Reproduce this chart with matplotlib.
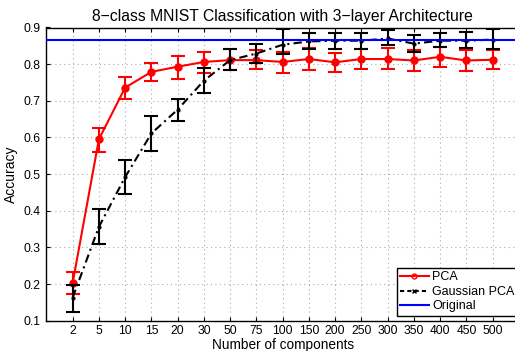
import matplotlib
matplotlib.use("Agg")
import matplotlib.pyplot as plt
from matplotlib.lines import Line2D
import numpy as np

components = ["2", "5", "10", "15", "20", "30", "50", "75", "100", "150",
              "200", "250", "300", "350", "400", "450", "500"]

pca_mean = [0.203, 0.595, 0.736, 0.779, 0.793, 0.806, 0.811, 0.811, 0.806, 0.814,
            0.805, 0.814, 0.814, 0.810, 0.820, 0.810, 0.812]
pca_lo = [0.173, 0.560, 0.705, 0.754, 0.760, 0.776, 0.784, 0.787, 0.777, 0.783,
          0.779, 0.788, 0.787, 0.782, 0.792, 0.781, 0.786]
pca_hi = [0.232, 0.627, 0.766, 0.803, 0.822, 0.832, 0.841, 0.838, 0.833, 0.845,
          0.831, 0.842, 0.843, 0.839, 0.847, 0.839, 0.839]

gpca_mean = [0.163, 0.356, 0.492, 0.611, 0.676, 0.755, 0.811, 0.829, 0.853, 0.862,
             0.864, 0.864, 0.870, 0.856, 0.864, 0.864, 0.867]
gpca_lo = [0.125, 0.309, 0.445, 0.564, 0.644, 0.720, 0.784, 0.804, 0.829, 0.840,
           0.842, 0.842, 0.852, 0.834, 0.846, 0.843, 0.840]
gpca_hi = [0.198, 0.406, 0.538, 0.658, 0.705, 0.789, 0.840, 0.855, 0.895, 0.884,
           0.884, 0.886, 0.893, 0.880, 0.886, 0.889, 0.895]

original_acc = 0.866

plt.rcParams['font.family'] = ['Liberation Sans', 'DejaVu Sans']

W, H = 515, 351
fig = plt.figure(figsize=(W / 100, H / 100), dpi=100)
left, right, top, bottom = 46.4, 46.4 + 18 * 26.25, 27.5, 320.7
ax = fig.add_axes([left / W, 1 - bottom / H, (right - left) / W, (bottom - top) / H])

x = np.arange(1, len(components) + 1)
pm, pl, ph = map(np.array, (pca_mean, pca_lo, pca_hi))
gm, gl, gh = map(np.array, (gpca_mean, gpca_lo, gpca_hi))

ax.errorbar(x, pm, yerr=[pm - pl, ph - pm], color='red', lw=1.5, marker='o',
            ms=5, mfc='red', mec='red', capsize=5, elinewidth=1.5, capthick=1.5,
            zorder=3)
ax.errorbar(x, gm, yerr=[gm - gl, gh - gm], color='black', lw=1.5,
            ls=(0, (4, 2, 1, 2)), marker='.', ms=4, capsize=5, elinewidth=1.5,
            capthick=1.5, zorder=4)
ax.axhline(original_acc, color='blue', lw=1.5, zorder=5)

ax.set_xlim(0, 18)
ax.set_ylim(0.1, 0.9)
ax.set_xticks(x)
ax.set_xticklabels(components)
ax.set_yticks(np.arange(0.1, 0.91, 0.1))
ax.set_yticklabels([f"{v:.1f}" for v in np.arange(0.1, 0.91, 0.1)])
ax.tick_params(direction='in', top=True, right=True, labelsize=8.7, length=3,
               pad=4)
ax.tick_params(axis='x', pad=3)
ax.grid(True, ls=(0, (1, 3)), color='#aaaaaa', lw=0.8)
for s in ax.spines.values():
    s.set_linewidth(1.0)

ax.set_title("8\u2212class MNIST Classification with 3\u2212layer Architecture",
             fontsize=11.3, pad=5)
ax.set_xlabel("Number of components", fontsize=9.8, labelpad=0.5)
ax.set_ylabel("Accuracy", fontsize=10, labelpad=4)

handles = [
    Line2D([], [], color='red', lw=1.5, marker='o', ms=3.5, mfc='none', mec='red'),
    Line2D([], [], color='black', lw=1.5, ls=(0, (2, 1.5)), marker='x', ms=3),
    Line2D([], [], color='blue', lw=1.5),
]
labels = ["PCA", "Gaussian PCA", "Original"]
leg = ax.legend(handles, labels, loc='upper left',
                bbox_to_anchor=(396.7 / W, 1 - 268.3 / H),
                bbox_transform=fig.transFigure, borderaxespad=0, fontsize=9,
                fancybox=False, edgecolor='black', framealpha=1,
                handlelength=2.3, labelspacing=0.2, borderpad=0.25,
                handletextpad=0.3)
leg.get_frame().set_linewidth(1.0)
leg.set_zorder(10)

fig.savefig("out.png", dpi=100)
